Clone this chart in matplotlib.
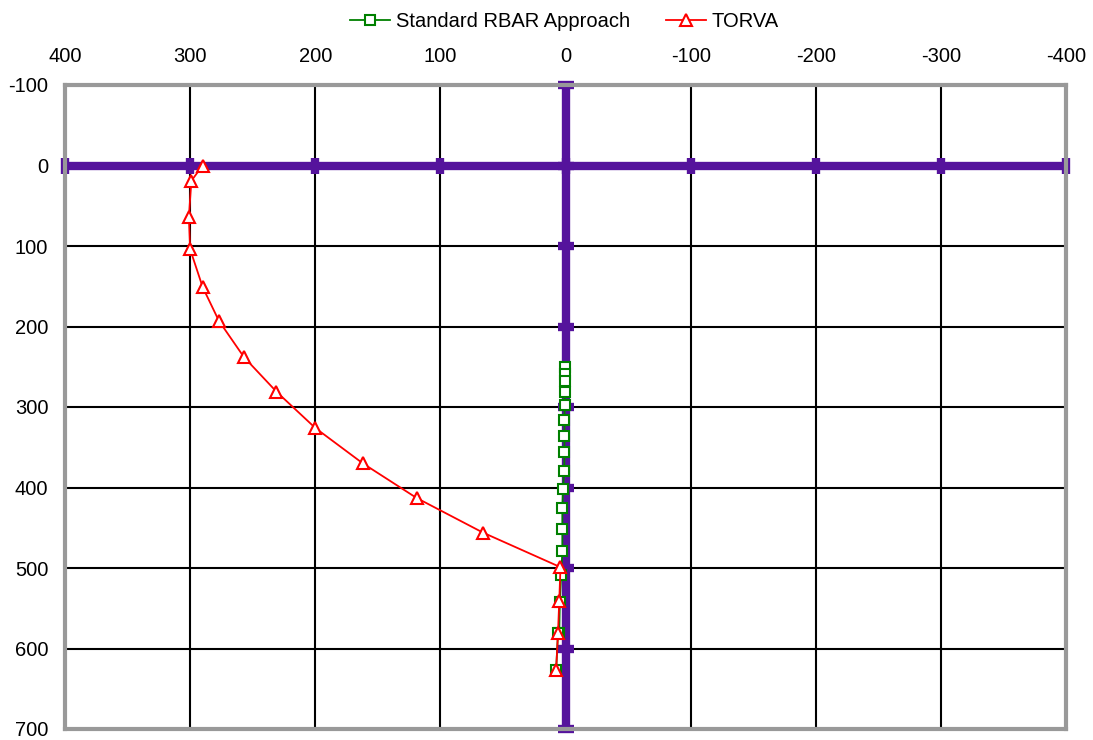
import matplotlib
matplotlib.use("Agg")
import matplotlib.pyplot as plt

plt.rcParams['font.family'] = ['Liberation Sans', 'DejaVu Sans']
plt.rcParams['axes.unicode_minus'] = False

# TORVA profile (x offset, depth)
torva_x = [290, 299, 301, 300, 290, 277, 257, 231, 200, 162, 119, 66, 4, 5, 6, 7.5]
torva_y = [0, 19, 64, 104, 151, 193, 238, 281, 326, 370, 413, 456, 499, 541, 581, 627]

# Standard RBAR approach
rbar_x = [0.5, 0.5, 0.5, 0.5, 0.7, 0.8, 0.8, 0.8, 1, 2, 2.5, 2.5, 2.5, 3.5, 4.5, 5, 6, 7.5]
rbar_y = [250, 259, 268, 281, 297, 316, 336, 356, 379, 402, 426, 452, 479, 509, 542, 581, 581, 627]

xticks = [400, 300, 200, 100, 0, -100, -200, -300, -400]
yticks = [-100, 0, 100, 200, 300, 400, 500, 600, 700]

purple = '#55139c'

fig = plt.figure(figsize=(10.93, 7.4), dpi=100)
ax = fig.add_axes([65 / 1093, 1 - 729 / 740, (1066 - 65) / 1093, (729 - 85) / 740])

ax.set_xlim(400, -400)
ax.set_ylim(700, -100)
ax.set_xticks(xticks)
ax.set_yticks(yticks)
ax.xaxis.tick_top()
ax.tick_params(length=0, labelsize=14.5)
ax.tick_params(axis='x', pad=14)
ax.tick_params(axis='y', pad=12)

# grid
for v in xticks[1:-1]:
    if v != 0:
        ax.axvline(v, color='black', lw=1.5, zorder=1)
for v in yticks[1:-1]:
    if v != 0:
        ax.axhline(v, color='black', lw=1.5, zorder=1)

# thick axis lines through the origin, with cross ticks
ax.axvline(0, color=purple, lw=6, zorder=2)
ax.axhline(0, color=purple, lw=6, zorder=2)
ax.plot(xticks, [0] * len(xticks), ls='none', marker='|', ms=11, mew=6,
        color=purple, zorder=2, clip_on=False)
ax.plot([0] * len(yticks), yticks, ls='none', marker='_', ms=11, mew=6,
        color=purple, zorder=2, clip_on=False)

ax.plot(rbar_x, rbar_y, color='#008000', lw=1.3, marker='s', ms=7, mfc='white',
        mec='#008000', mew=1.5, label='Standard RBAR Approach', zorder=3)
ax.plot(torva_x, torva_y, color='#ff0000', lw=1.3, marker='^', ms=8, mfc='white',
        mec='#ff0000', mew=1.5, label='TORVA', zorder=4)

for s in ax.spines.values():
    s.set_color('#999999')
    s.set_linewidth(3)

fig.legend(loc='upper center', bbox_to_anchor=(0.5165, 1.008), ncol=2, frameon=False,
           fontsize=14.5, handlelength=2.0, handletextpad=0.3, columnspacing=1.75)

fig.savefig('out.png', dpi=100)
